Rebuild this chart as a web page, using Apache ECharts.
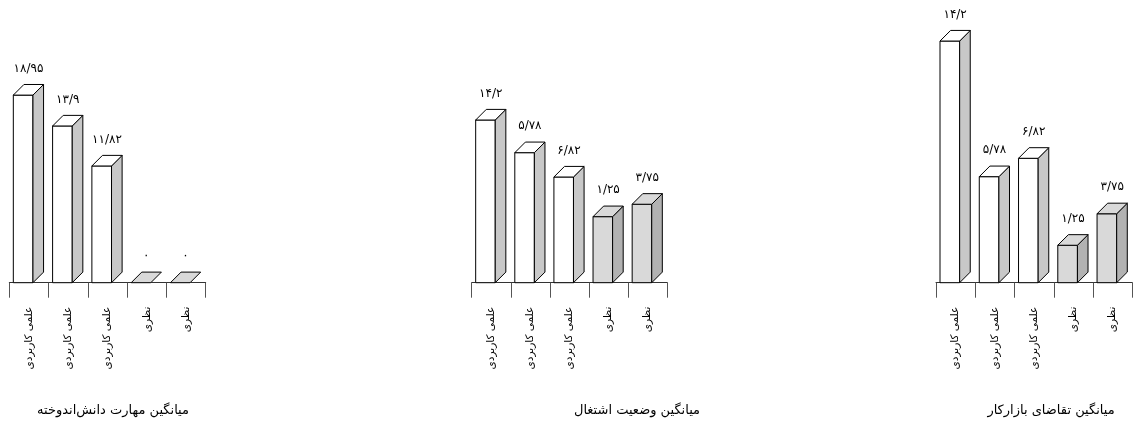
<!DOCTYPE html>
<html>
<head>
<meta charset="utf-8">
<script src="https://cdn.jsdelivr.net/npm/echarts@6/dist/echarts.min.js"></script>
<style>
html,body{margin:0;padding:0;background:#fff;}
#chart{width:1133px;height:428px;}
</style>
</head>
<body>
<div id="chart"></div>
<script>
// ---- data ----
const categories = ['علمی کاربردی', 'علمی کاربردی', 'علمی کاربردی', 'نظری', 'نظری'];
const panelTitles = ['میانگین مهارت دانش‌اندوخته', 'میانگین وضعیت اشتغال', 'میانگین تقاضای بازارکار'];
// bar heights (each panel has its own scale)
const skillValues = [18.95, 15.83, 11.79, 0, 0];
const skillLabels = ['۱۸/۹۵', '۱۳/۹', '۱۱/۸۲', '۰', '۰'];
const employValues = [9.56, 7.64, 6.21, 3.88, 4.61];
const employLabels = ['۱۴/۲', '۵/۷۸', '۶/۸۲', '۱/۲۵', '۳/۷۵'];
const demandValues = [14.2, 6.23, 7.31, 2.2, 4.05];
const demandLabels = ['۱۴/۲', '۵/۷۸', '۶/۸۲', '۱/۲۵', '۳/۷۵'];
const barKinds = ['white', 'white', 'white', 'gray', 'gray'];

const FONT = '"DejaVu Sans", sans-serif';
const panels = [
  { values: skillValues, labels: skillLabels, left: 9.3, width: 196.4, max: 25, top: 35.2, titleX: 108 },
  { values: employValues, labels: employLabels, left: 471.7, width: 195.6, max: 16, top: 10.4, titleX: 632 },
  { values: demandValues, labels: demandLabels, left: 936, width: 196.3, max: 16, top: 10.4, titleX: 1046 }
];
const BASE_Y = 282.7;
const DEPTH = 10.6;
const colors = {
  white: { front: '#ffffff', side: '#c8c8c8', top: '#ffffff' },
  gray: { front: '#d9d9d9', side: '#b2b2b2', top: '#d9d9d9' }
};

function makeRender(labels) {
  return function (params, api) {
    const idx = params.dataIndex;
    const v = api.value(1);
    const base = api.coord([idx, 0]);
    const topPt = api.coord([idx, v]);
    const cw = api.size([1, 0])[0];
    const w = cw * 0.5;
    const d = DEPTH;
    const L = base[0] - (w + d) / 2 - 0.5;
    const R = L + w;
    const yb = base[1];
    const yt = topPt[1];
    const c = colors[barKinds[idx]];
    const st = { stroke: '#000', lineWidth: 1 };
    const children = [];
    if (yb - yt > 0.5) {
      children.push({ type: 'rect', shape: { x: L, y: yt, width: w, height: yb - yt }, style: Object.assign({ fill: c.front }, st) });
      children.push({ type: 'polygon', shape: { points: [[R, yt], [R + d, yt - d], [R + d, yb - d], [R, yb]] }, style: Object.assign({ fill: c.side }, st) });
    }
    children.push({ type: 'polygon', shape: { points: [[L, yt], [R, yt], [R + d, yt - d], [L + d, yt - d]] }, style: Object.assign({ fill: c.top }, st) });
    children.push({
      type: 'text',
      style: { text: labels[idx], x: L + (w + d) / 2, y: yt - d - 16, align: 'center', verticalAlign: 'middle', fontSize: 12, fontFamily: FONT, fill: '#000' }
    });
    return { type: 'group', children: children };
  };
}

const option = {
  animation: false,
  backgroundColor: '#fff',
  title: panels.map((p, i) => ({
    text: panelTitles[i], left: p.titleX, top: 399, textAlign: 'center',
    textStyle: { fontSize: 13, fontWeight: 'normal', color: '#000', fontFamily: FONT }
  })),
  grid: panels.map(p => ({ left: p.left, width: p.width, top: p.top, bottom: 428 - BASE_Y })),
  xAxis: panels.map((p, i) => ({
    type: 'category', gridIndex: i, data: categories, boundaryGap: true,
    axisLine: { show: true, lineStyle: { color: '#333', width: 1 } },
    axisTick: { show: true, interval: 0, length: 15, lineStyle: { color: '#555', width: 1 } },
    axisLabel: { interval: 0, rotate: 90, margin: 24, fontSize: 10.5, color: '#000', fontFamily: FONT }
  })),
  yAxis: panels.map((p, i) => ({ type: 'value', gridIndex: i, min: 0, max: p.max, show: false, splitLine: { show: false } })),
  series: panels.map((p, i) => ({
    type: 'custom', xAxisIndex: i, yAxisIndex: i,
    data: p.values.map((v, j) => [j, v]),
    renderItem: makeRender(p.labels)
  }))
};

const chart = echarts.init(document.getElementById('chart'), null, { renderer: 'canvas' });
chart.setOption(option);
</script>
</body>
</html>
